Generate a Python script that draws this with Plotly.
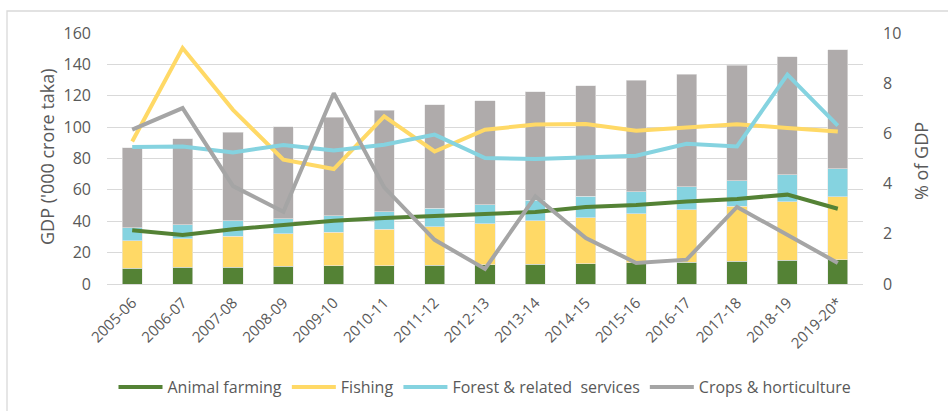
import plotly.graph_objects as go

# Fiscal years
years = ["2005-06", "2006-07", "2007-08", "2008-09", "2009-10", "2010-11", "2011-12",
         "2012-13", "2013-14", "2014-15", "2015-16", "2016-17", "2017-18", "2018-19", "2019-20*"]

# GDP by sub-sector ('000 crore taka), stacked bars
gdp_animal = [10.2, 10.6, 10.8, 11.2, 11.5, 11.7, 12.1, 12.3, 12.5, 12.9, 13.4, 14.0, 14.4, 15.0, 15.5]
gdp_fishing = [17.4, 18.3, 19.8, 20.7, 21.6, 23.1, 24.4, 26.1, 27.7, 29.4, 31.4, 33.2, 35.1, 37.3, 40.0]
gdp_forest = [8.3, 8.9, 9.8, 9.7, 10.4, 11.3, 11.7, 12.2, 13.1, 13.5, 14.0, 14.8, 16.4, 17.4, 18.0]
gdp_crops = [50.8, 54.8, 56.3, 58.7, 62.7, 64.6, 66.1, 66.3, 69.1, 70.6, 71.0, 71.6, 73.5, 75.2, 75.7]

# Share of GDP (%), lines on the secondary axis
pct_animal = [2.14, 1.95, 2.18, 2.35, 2.52, 2.63, 2.72, 2.79, 2.87, 3.07, 3.15, 3.29, 3.39, 3.56, 3.00]
pct_fishing = [5.68, 9.40, 6.94, 4.95, 4.58, 6.68, 5.28, 6.15, 6.35, 6.37, 6.11, 6.24, 6.36, 6.22, 6.08]
pct_forest = [5.46, 5.48, 5.24, 5.54, 5.32, 5.55, 5.95, 5.02, 4.98, 5.06, 5.11, 5.59, 5.48, 8.34, 6.31]
pct_crops = [6.15, 7.01, 3.90, 2.88, 7.60, 3.85, 1.76, 0.60, 3.49, 1.83, 0.84, 0.97, 3.07, 1.96, 0.84]

names = ["Animal farming", "Fishing", "Forest & related  services", "Crops & horticulture"]
bar_colors = ["#548235", "#FFD966", "#85D3E0", "#AFABAB"]
line_colors = ["#548235", "#FFD966", "#85D3E0", "#A5A5A5"]

FONT = "Open Sans"
TXT = "#595959"
GRID = "#D9D9D9"

fig = go.Figure()

for name, vals, col in zip(names, [gdp_animal, gdp_fishing, gdp_forest, gdp_crops], bar_colors):
    fig.add_trace(go.Bar(x=years, y=vals, name=name,
                         marker=dict(color=col, line=dict(color="#E6E6E6", width=0.6)),
                         showlegend=False, yaxis="y"))

for name, vals, col in zip(names, [pct_animal, pct_fishing, pct_forest, pct_crops], line_colors):
    fig.add_trace(go.Scatter(x=years, y=vals, name=name, mode="lines",
                             line=dict(color=col, width=4), yaxis="y2"))

W, H = 948, 411
L, R, T, B = 107, 85, 33, 127
pw, ph = W - L - R, H - T - B

def px_x(x):
    return (x - L) / pw

def px_y(y):
    return (H - B - y) / ph

fig.update_layout(
    width=W, height=H,
    margin=dict(l=L, r=R, t=T, b=B, autoexpand=False),
    barmode="stack", bargap=0.6,
    plot_bgcolor="white", paper_bgcolor="white",
    font=dict(family=FONT, color=TXT, size=14),
    xaxis=dict(type="category", tickangle=-45, tickfont=dict(size=15), showgrid=False,
               showline=False, ticks="", ticklen=0, ticklabelstandoff=6),
    yaxis=dict(range=[0, 160], dtick=20, gridcolor=GRID, gridwidth=1.3, zeroline=True,
               zerolinecolor=GRID, zerolinewidth=1.3, showline=False, ticks="",
               tickfont=dict(size=16), ticklabelstandoff=15),
    yaxis2=dict(range=[0, 10], dtick=2, overlaying="y", side="right", showgrid=False,
                zeroline=False, showline=False, ticks="", tickfont=dict(size=16),
                ticklabelstandoff=19),
    legend=dict(orientation="h", xref="container", yref="container",
                x=485 / W, xanchor="center", y=1 - 387 / H, yanchor="middle",
                font=dict(size=16, color=TXT), itemwidth=44, traceorder="normal"),
    showlegend=True,
    annotations=[
        dict(text="GDP ('000 crore taka)", x=px_x(47), y=px_y(157), xref="paper", yref="paper",
             xanchor="center", yanchor="middle",
             textangle=-90, showarrow=False, font=dict(size=18, color=TXT)),
        dict(text="% of GDP", x=px_x(921), y=px_y(161), xref="paper", yref="paper",
             xanchor="center", yanchor="middle",
             textangle=-90, showarrow=False, font=dict(size=18, color=TXT)),
    ],
    shapes=[
        dict(type="rect", xref="paper", yref="paper", x0=px_x(7), x1=px_x(960),
             y0=px_y(430), y1=px_y(11), line=dict(color=GRID, width=1.3), layer="below"),
    ],
)

fig.write_html("out.html")
